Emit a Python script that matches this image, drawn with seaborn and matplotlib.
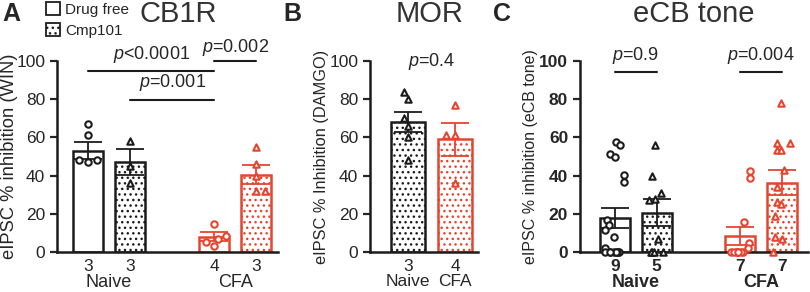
import warnings
import numpy as np
import pandas as pd
import seaborn as sns
import matplotlib.pyplot as plt
from matplotlib.patches import Patch

warnings.filterwarnings('ignore')
np.random.seed(3)

sns.set_style('ticks')
plt.rcParams['font.family'] = ['Liberation Sans', 'DejaVu Sans']
plt.rcParams['mathtext.fontset'] = 'custom'
plt.rcParams['mathtext.it'] = 'Liberation Sans:italic'
plt.rcParams['mathtext.rm'] = 'Liberation Sans'
plt.rcParams['hatch.linewidth'] = 1.0

BLACK = '#1c1c1c'
RED = '#e5452f'
colors = {'Naive': BLACK, 'CFA': RED}

groups = ['Naive', 'CFA']
drugs = ['Drug free', 'Cmp101']

# A: CB1R (WIN) -- bars: naive/free, naive/cmp101, cfa/free, cfa/cmp101
a_labels = ['Naive free', 'Naive cmp', 'CFA free', 'CFA cmp']
a_group = ['Naive', 'Naive', 'CFA', 'CFA']
a_drug = ['Drug free', 'Cmp101', 'Drug free', 'Cmp101']
a_mean = [53, 47, 8, 40.5]
a_sem = [4.5, 6.8, 2.5, 5.0]
a_n = ['3', '3', '4', '3']
a_naive_free = [67, 61, 48, 47, 48]
a_naive_cmp = [58, 45, 36]
a_cfa_free = [14.5, 8.5, 7, 5, 3]
a_cfa_cmp = [55, 46, 40, 32, 32]

# B: MOR (DAMGO)
b_labels = ['Naive', 'CFA']
b_group = ['Naive', 'CFA']
b_drug = ['Cmp101', 'Cmp101']
b_mean = [68, 59]
b_sem = [5.2, 8.5]
b_n = ['3', '4']
b_naive = [84, 80, 70, 66, 60, 48]
b_cfa = [77, 61, 61, 36]

# C: eCB tone
c_labels = a_labels
c_group = a_group
c_drug = a_drug
c_mean = [17.8, 20.6, 8.4, 36.2]
c_sem = [5.2, 7.0, 4.5, 6.5]
c_n = ['9', '5', '7', '7']
c_naive_free = [57.8, 56, 51.3, 49.7, 40.3, 36.6, 17, 14, 11.5, 8, 2,
                0, 0, 0, 0, 0, 0, 0, 0]
c_naive_cmp = [56, 40, 31, 27.5, 27, 7, 0, 0, 0, 0]
c_cfa_free = [42.5, 39, 15.5, 4.5, 2, 0, 0, 0, 0, 0, 0, 0]
c_cfa_cmp = [78, 57, 53.5, 53.5, 57, 43, 34, 26, 25, 19, 8, 7, 0]


def draw_panel(ax, labels, grp, drug, means, sems, counts, points, order,
               bold=False, swarm=True):
    bars = pd.DataFrame({'bar': labels, 'group': grp, 'value': means})
    sns.barplot(data=bars, x='bar', y='value', hue='group', order=order,
                hue_order=groups, palette=colors, dodge=False, fill=False,
                width=0.72, linewidth=1.8, errorbar=None, legend=False, ax=ax)
    patches = sorted(ax.patches, key=lambda p: p.get_x())
    for p, d in zip(patches, drug):
        p.set_facecolor('white')
        p.set_fill(True)
        if d == 'Cmp101':
            p.set_hatch('...')
    # mean +/- SEM
    for p, m, s, g in zip(patches, means, sems, grp):
        xc = p.get_x() + p.get_width() / 2
        ax.errorbar(xc, m, yerr=s, fmt='none', ecolor=colors[g], elinewidth=1.3,
                    capsize=10, capthick=1.3, zorder=3)
    # individual cells
    for lab, g, d, vals in zip(labels, grp, drug, points):
        n_before = len(ax.collections)
        sub = pd.DataFrame({'bar': lab, 'value': vals})
        kw = dict(data=sub, x='bar', y='value', order=order, color=colors[g],
                  marker='o' if d == 'Drug free' else '^', size=4.6,
                  linewidth=1.5, edgecolor=colors[g], ax=ax)
        if swarm:
            sns.swarmplot(**kw)
        else:
            sns.stripplot(jitter=0.26, **kw)
        for c in ax.collections[n_before:]:
            c.set_facecolor('white')
            c.set_edgecolor(colors[g])
            c.set_clip_on(False)
            c.set_zorder(4)

    weight = 'bold' if bold else 'normal'
    ax.set_ylim(0, 100)
    ax.set_yticks(np.arange(0, 101, 20))
    ax.set_xticks(range(len(order)))
    lab_n = dict(zip(labels, counts))
    ax.set_xticklabels([lab_n.get(o, '') for o in order], fontsize=12.5,
                       fontweight=weight)
    ax.tick_params(axis='x', length=0, pad=5)
    ax.tick_params(axis='y', length=5, width=1.6, labelsize=12.5, pad=3.5)
    for t in ax.get_yticklabels():
        t.set_fontweight(weight)
    sns.despine(ax=ax)
    for sp in ['left', 'bottom']:
        ax.spines[sp].set_linewidth(1.8)
        ax.spines[sp].set_color(BLACK)
    ax.set_xlabel('')


def sig(ax, order, a, b, y, text, ty):
    x1, x2 = order.index(a), order.index(b)
    ax.plot([x1, x2], [y, y], color=BLACK, lw=1.5, clip_on=False)
    ax.text((x1 + x2) / 2, ty, text, ha='center', va='bottom', fontsize=13)


def group_names(ax, order, bold=False):
    for g in groups:
        idx = [i for i, o in enumerate(order) if o.startswith(g)]
        if idx:
            ax.text(np.mean(idx), -0.16, g, transform=ax.get_xaxis_transform(),
                    ha='center', va='center', fontsize=13,
                    fontweight='bold' if bold else 'normal')


fig = plt.figure(figsize=(8.1, 2.92), dpi=100)
bot, h = 40 / 292, 191 / 292

# ---- A
axA = fig.add_axes([57 / 810, bot, 221 / 810, h])
orderA = ['Naive free', 'Naive cmp', ' ', 'CFA free', 'CFA cmp']
draw_panel(axA, a_labels, a_group, a_drug, a_mean, a_sem, a_n,
           [a_naive_free, a_naive_cmp, a_cfa_free, a_cfa_cmp], orderA)
axA.set_xlim(-0.74, 4.52)
axA.set_ylabel('eIPSC % inhibition (WIN)', fontsize=13.2)
axA.yaxis.set_label_coords(-0.178, 0.5)
group_names(axA, orderA)
sig(axA, orderA, 'Naive free', 'CFA free', 95, r'$\it{p}$<0.0001', 98)
sig(axA, orderA, 'Naive cmp', 'CFA free', 79.5, r'$\it{p}$=0.001', 83)
sig(axA, orderA, 'CFA free', 'CFA cmp', 100, r'$\it{p}$=0.002', 101.5)
axA.set_title('CB1R', fontsize=21, color='#333333', x=0.55, y=1.16)

# ---- B
axB = fig.add_axes([370 / 810, bot, 108 / 810, h])
orderB = ['Naive', 'CFA']
draw_panel(axB, b_labels, b_group, b_drug, b_mean, b_sem, b_n,
           [b_naive, b_cfa], orderB)
axB.set_xlim(-0.81, 1.49)
axB.set_xticklabels([f'{n}\n{g}' for n, g in zip(b_n, orderB)], fontsize=12.5,
                    linespacing=1.0)
axB.set_ylabel('eIPSC % Inhibition (DAMGO)', fontsize=11.8)
axB.yaxis.set_label_coords(-0.38, 0.5)
axB.text(0.5, 94, r'$\it{p}$=0.4', ha='center', va='bottom', fontsize=13)
axB.set_title('MOR', fontsize=21, color='#333333', x=0.55, y=1.16)

# ---- C
axC = fig.add_axes([580 / 810, bot, 228 / 810, h])
orderC = ['Naive free', 'Naive cmp', ' ', 'CFA free', 'CFA cmp']
draw_panel(axC, c_labels, c_group, c_drug, c_mean, c_sem, c_n,
           [c_naive_free, c_naive_cmp, c_cfa_free, c_cfa_cmp], orderC,
           bold=True, swarm=False)
axC.set_xlim(-0.84, 4.63)
axC.set_ylabel('eIPSC % inhibition (eCB tone)', fontsize=11.5)
axC.yaxis.set_label_coords(-0.184, 0.5)
group_names(axC, orderC, bold=True)
sig(axC, orderC, 'Naive free', 'Naive cmp', 94, r'$\it{p}$=0.9', 97.5)
sig(axC, orderC, 'CFA free', 'CFA cmp', 94, r'$\it{p}$=0.004', 97.5)
axC.set_title('eCB tone', fontsize=21, color='#333333', x=0.5, y=1.16)

# panel letters
for x, letter in [(2, 'A'), (283, 'B'), (493, 'C')]:
    fig.text(x / 810, 1 - 2 / 292, letter, fontsize=18, fontweight='bold',
             ha='left', va='top')

# legend
handles = [Patch(facecolor='white', edgecolor=BLACK, linewidth=1.3),
           Patch(facecolor='white', edgecolor=BLACK, linewidth=1.3, hatch='...')]
fig.legend(handles, drugs, loc='upper left', bbox_to_anchor=(46 / 810, 1 - 2 / 292),
           frameon=False, fontsize=11, handlelength=0.9, handleheight=0.9,
           labelspacing=0.45, handletextpad=0.35, borderpad=0, borderaxespad=0)

fig.savefig('out.png', dpi=100)
